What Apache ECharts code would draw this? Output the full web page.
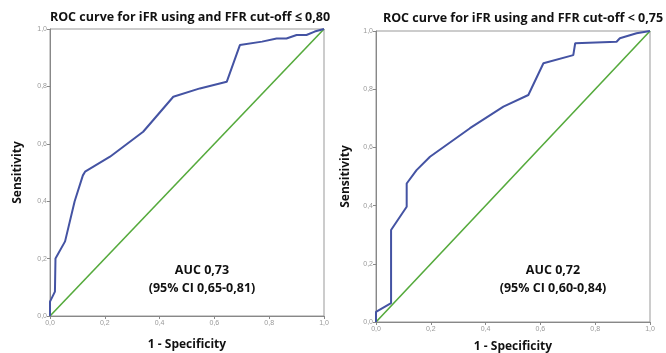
<!DOCTYPE html>
<html>
<head>
<meta charset="utf-8">
<script src="https://cdn.jsdelivr.net/npm/echarts@6/dist/echarts.min.js"></script>
<style>
  html, body { margin: 0; padding: 0; background: #fff; }
  #main { width: 666px; height: 353px; }
</style>
</head>
<body>
<div id="main"></div>
<script>
// ROC curves, data (x = 1 - specificity, y = sensitivity)
var titles = ['ROC curve for iFR using and FFR cut-off \u2264 0,80', 'ROC curve for iFR using and FFR cut-off < 0,75'];
var aucText = [['AUC 0,73', '(95% CI 0,65-0,81)'], ['AUC 0,72', '(95% CI 0,60-0,84)']];
var tickLabels = ['0,0', '0,2', '0,4', '0,6', '0,8', '1,0'];

var roc1x = [0, 0, 0.018, 0.02, 0.055, 0.09, 0.12, 0.128, 0.219, 0.34, 0.377, 0.45, 0.547, 0.645, 0.693, 0.774, 0.827, 0.863, 0.9, 0.936, 0.966, 1];
var roc1y = [0, 0.05, 0.085, 0.2, 0.26, 0.40, 0.49, 0.503, 0.555, 0.642, 0.683, 0.764, 0.793, 0.816, 0.944, 0.956, 0.967, 0.967, 0.979, 0.979, 0.991, 1];

var roc2x = [0, 0, 0.055, 0.055, 0.112, 0.112, 0.148, 0.197, 0.343, 0.465, 0.556, 0.611, 0.72, 0.727, 0.878, 0.89, 0.951, 1];
var roc2y = [0, 0.035, 0.065, 0.316, 0.396, 0.476, 0.522, 0.568, 0.666, 0.74, 0.78, 0.889, 0.917, 0.958, 0.963, 0.975, 0.992, 1];

var refLine = [[0, 0], [1, 1]];

function pairs(xs, ys) {
  var out = [];
  for (var i = 0; i < xs.length; i++) out.push([xs[i], ys[i]]);
  return out;
}

var myChart = echarts.init(document.getElementById('main'));

var grids = [
  {left: 50, right: 342, top: 29, bottom: 37},
  {left: 376, right: 16, top: 31, bottom: 31}
];
var xNameGap = [23, 19];
var yNameGap = [26, 24];

function labelFmt(v) {
  return tickLabels[Math.round(v * 5)];
}

var xAxes = [], yAxes = [];
for (var g = 0; g < 2; g++) {
  xAxes.push({
    type: 'value', gridIndex: g, min: 0, max: 1, interval: 0.2,
    name: '1 - Specificity', nameLocation: 'middle', nameGap: xNameGap[g],
    nameTextStyle: {fontSize: 12, fontWeight: 'bold', color: '#111', fontFamily: 'Open Sans'},
    axisLine: {show: true, lineStyle: {color: '#888'}},
    axisTick: {show: true, length: 3, lineStyle: {color: '#888'}},
    axisLabel: {formatter: labelFmt, fontSize: 7, color: '#999', margin: 4},
    splitLine: {show: false}
  });
  yAxes.push({
    type: 'value', gridIndex: g, min: 0, max: 1, interval: 0.2,
    name: 'Sensitivity', nameLocation: 'middle', nameGap: yNameGap[g],
    nameTextStyle: {fontSize: 12, fontWeight: 'bold', color: '#111', fontFamily: 'Open Sans'},
    axisLine: {show: true, lineStyle: {color: '#888'}},
    axisTick: {show: true, length: 3, lineStyle: {color: '#888'}},
    axisLabel: {formatter: labelFmt, fontSize: 7, color: '#999', margin: 3},
    splitLine: {show: false}
  });
}

var aucStyle = {fontSize: 12.5, fontWeight: 'bold', fill: '#111', fontFamily: 'Open Sans', align: 'center', verticalAlign: 'middle'};

var option = {
  animation: false,
  title: [
    {text: titles[0], left: 185, top: 6, textAlign: 'center',
     textStyle: {fontSize: 12.5, fontWeight: 'bold', color: '#111', fontFamily: 'Open Sans'}},
    {text: titles[1], left: 518, top: 7, textAlign: 'center',
     textStyle: {fontSize: 12.5, fontWeight: 'bold', color: '#111', fontFamily: 'Open Sans'}}
  ],
  grid: grids.map(function (gr) {
    return Object.assign({show: true, borderColor: '#999', borderWidth: 1, backgroundColor: '#fff', outerBoundsMode: 'none', containLabel: false}, gr);
  }),
  xAxis: xAxes,
  yAxis: yAxes,
  graphic: [
    {type: 'text', x: 202, y: 270, style: Object.assign({text: aucText[0][0]}, aucStyle)},
    {type: 'text', x: 202, y: 288, style: Object.assign({text: aucText[0][1]}, aucStyle)},
    {type: 'text', x: 553, y: 270, style: Object.assign({text: aucText[1][0]}, aucStyle)},
    {type: 'text', x: 553, y: 288, style: Object.assign({text: aucText[1][1]}, aucStyle)}
  ],
  series: [
    {type: 'line', xAxisIndex: 0, yAxisIndex: 0, data: refLine, symbol: 'none',
     lineStyle: {color: '#55aa3c', width: 1.6}},
    {type: 'line', xAxisIndex: 0, yAxisIndex: 0, data: pairs(roc1x, roc1y), symbol: 'none',
     lineStyle: {color: '#4453a3', width: 2}},
    {type: 'line', xAxisIndex: 1, yAxisIndex: 1, data: refLine, symbol: 'none',
     lineStyle: {color: '#55aa3c', width: 1.6}},
    {type: 'line', xAxisIndex: 1, yAxisIndex: 1, data: pairs(roc2x, roc2y), symbol: 'none',
     lineStyle: {color: '#4453a3', width: 2}}
  ]
};

myChart.setOption(option);
</script>
</body>
</html>
